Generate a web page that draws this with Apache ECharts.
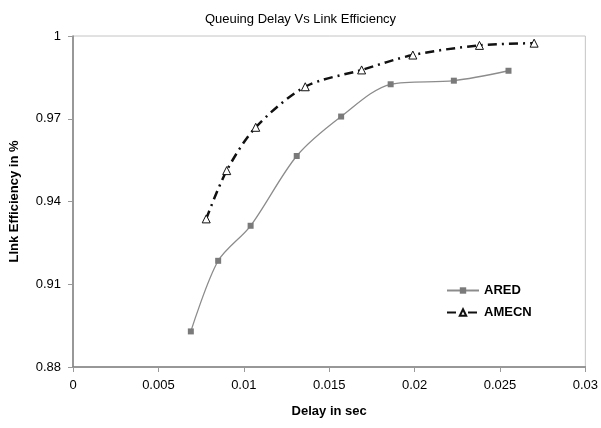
<!DOCTYPE html>
<html>
<head>
<meta charset="utf-8">
<script src="https://cdn.jsdelivr.net/npm/echarts@6/dist/echarts.min.js"></script>
<style>
  html, body { margin: 0; padding: 0; background: #fff; }
  #chart { width: 601px; height: 428px; }
</style>
</head>
<body>
<div id="chart"></div>
<script>
// delay (sec) / link efficiency
const aredDelay = [0.0069, 0.0085, 0.0104, 0.0131, 0.0157, 0.0186, 0.0223, 0.0255];
const aredEff = [0.8929, 0.9185, 0.9312, 0.9565, 0.9708, 0.9825, 0.9838, 0.9874];
const amecnDelay = [0.0078, 0.0090, 0.0107, 0.0136, 0.0169, 0.0199, 0.0238, 0.0270];
const amecnEff = [0.9337, 0.9512, 0.9669, 0.9816, 0.9877, 0.9931, 0.9966, 0.9974];

const font = 'Liberation Sans';

function pairs(xs, ys) {
  return xs.map((x, i) => [x, ys[i]]);
}

const chart = echarts.init(document.getElementById('chart'));

chart.setOption({
  animation: false,
  textStyle: { fontFamily: font },
  title: {
    text: 'Queuing Delay Vs Link Efficiency',
    left: 'center',
    top: 8,
    textStyle: { fontFamily: font, fontSize: 13, fontWeight: 'normal', color: '#000' }
  },
  grid: {
    left: 73, right: 15, top: 36, bottom: 61,
    show: true, borderColor: '#c4c4c4', borderWidth: 1
  },
  legend: {
    orient: 'vertical',
    left: 441,
    top: 279,
    itemWidth: 32,
    itemHeight: 8,
    itemGap: 9,
    textStyle: { fontFamily: font, fontSize: 13, fontWeight: 'bold', color: '#000' },
    data: ['ARED', 'AMECN']
  },
  xAxis: {
    type: 'value',
    min: 0, max: 0.03, interval: 0.005,
    name: 'Delay in sec',
    nameLocation: 'middle',
    nameGap: 38,
    nameTextStyle: { fontFamily: font, fontSize: 13, fontWeight: 'bold', color: '#000' },
    axisLine: { lineStyle: { color: '#808080', width: 1.5 } },
    axisTick: { show: true, length: 5, lineStyle: { color: '#999' } },
    axisLabel: { fontSize: 13, color: '#000', margin: 12 },
    splitLine: { show: false }
  },
  yAxis: {
    type: 'value',
    min: 0.88, max: 1, interval: 0.03,
    name: 'LInk Efficiency in %',
    nameLocation: 'middle',
    nameGap: 52,
    nameTextStyle: { fontFamily: font, fontSize: 13, fontWeight: 'bold', color: '#000' },
    axisLine: { show: true, lineStyle: { color: '#808080', width: 1.5 } },
    axisTick: { show: true, length: 5, lineStyle: { color: '#999' } },
    axisLabel: {
      fontSize: 13, color: '#000', margin: 12,
      formatter: v => String(+v.toFixed(2))
    },
    splitLine: { show: false }
  },
  series: [
    {
      name: 'ARED',
      type: 'line',
      smooth: 0.3,
      data: pairs(aredDelay, aredEff),
      symbol: 'rect',
      symbolSize: 6,
      itemStyle: { color: '#7a7a7a', borderWidth: 0 },
      lineStyle: { color: '#8c8c8c', width: 1.3 }
    },
    {
      name: 'AMECN',
      type: 'line',
      smooth: 0.3,
      data: pairs(amecnDelay, amecnEff),
      symbol: 'triangle',
      symbolSize: 8,
      itemStyle: { color: '#fff', borderColor: '#111', borderWidth: 1 },
      lineStyle: { color: '#111', width: 2.5, type: [9, 5, 2, 5] }
    }
  ]
});
</script>
</body>
</html>
